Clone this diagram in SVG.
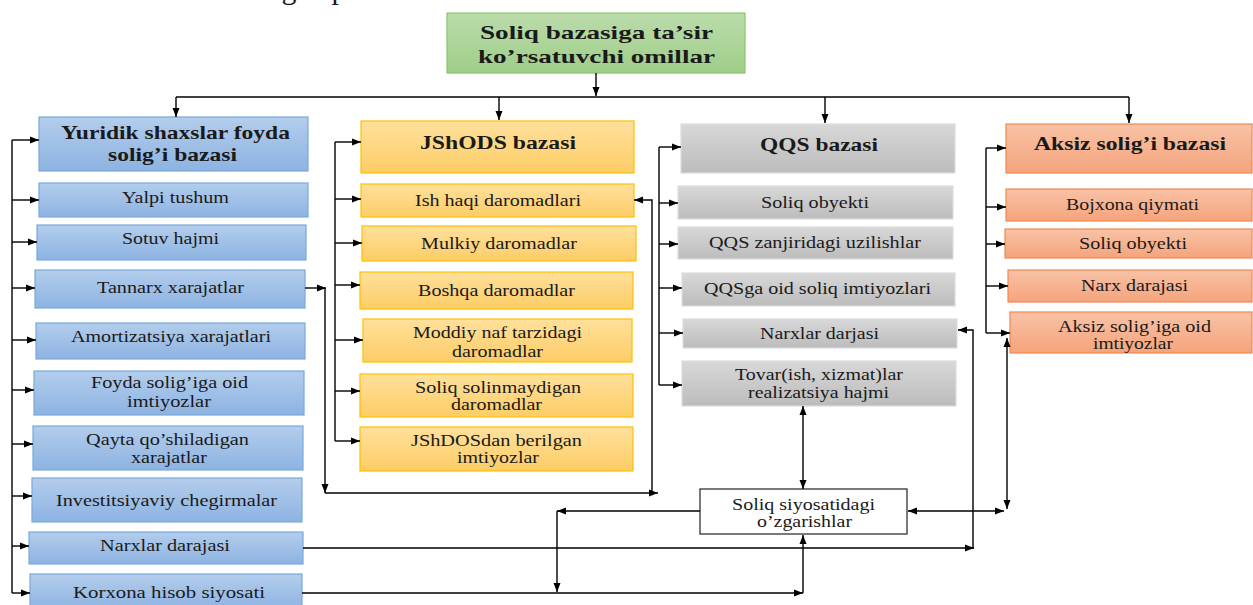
<svg xmlns="http://www.w3.org/2000/svg" width="1253" height="605" viewBox="0 0 1253 605">
<defs>
<linearGradient id="gBlue" x1="0" y1="0" x2="0" y2="1"><stop offset="0" stop-color="#b3cdec"/><stop offset="1" stop-color="#8db3e2"/></linearGradient>
<linearGradient id="gYel" x1="0" y1="0" x2="0" y2="1"><stop offset="0" stop-color="#ffe09c"/><stop offset="1" stop-color="#fdcd66"/></linearGradient>
<linearGradient id="gGray" x1="0" y1="0" x2="0" y2="1"><stop offset="0" stop-color="#d8d8d8"/><stop offset="1" stop-color="#bcbcbc"/></linearGradient>
<linearGradient id="gOr" x1="0" y1="0" x2="0" y2="1"><stop offset="0" stop-color="#f8c2a6"/><stop offset="1" stop-color="#f5a47c"/></linearGradient>
<linearGradient id="gGreen" x1="0" y1="0" x2="0" y2="1"><stop offset="0" stop-color="#bbdcab"/><stop offset="1" stop-color="#9fce88"/></linearGradient>
<marker id="ar" markerUnits="userSpaceOnUse" markerWidth="10" markerHeight="8" refX="9" refY="4" orient="auto-start-reverse"><path d="M0,0.5 L9,4 L0,7.5 z" fill="#000"/></marker>
</defs>
<style>
.blue{fill:url(#gBlue);stroke:#7aa8dc;stroke-width:1.2}
.yel{fill:url(#gYel);stroke:#ffc000;stroke-width:1.2}
.gray{fill:url(#gGray);stroke:#dcdcdc;stroke-width:1.2}
.or{fill:url(#gOr);stroke:#f0894e;stroke-width:1.2}
.grn{fill:url(#gGreen);stroke:#8cc36d;stroke-width:1.2}
.wht{fill:#fff;stroke:#333;stroke-width:1.3}
text{font-family:"Liberation Serif","Times New Roman",serif;fill:#1a1a1a;text-anchor:middle}
.t{font-size:16px}
.b{font-size:19px;font-weight:bold}
.c path{fill:none;stroke:#000;stroke-width:1.4}
.c .a{marker-end:url(#ar)}
.c .d{marker-start:url(#ar);marker-end:url(#ar)}
</style>
<text x="289" y="-1" style="font-size:30px">g</text>
<text x="339" y="-1" style="font-size:30px">p</text>
<g id="root"><rect class="grn" x="447" y="13" width="298" height="60"/><text class="b" x="596.5" y="39" textLength="233" lengthAdjust="spacingAndGlyphs">Soliq bazasiga ta’sir</text><text class="b" x="596.5" y="63" textLength="237" lengthAdjust="spacingAndGlyphs">ko’rsatuvchi omillar</text></g>
<g id="yuridik"><rect class="blue" x="39" y="117" width="269" height="54"/><text class="b" x="175.5" y="139" textLength="229" lengthAdjust="spacingAndGlyphs">Yuridik shaxslar foyda</text><text class="b" x="172.5" y="161" textLength="129" lengthAdjust="spacingAndGlyphs">solig’i bazasi</text></g>
<g id="yalpi"><rect class="blue" x="39" y="183" width="269" height="34"/><text class="t" x="175.5" y="203" textLength="107" lengthAdjust="spacingAndGlyphs">Yalpi tushum</text></g>
<g id="sotuv"><rect class="blue" x="37" y="225" width="269" height="35"/><text class="t" x="170.5" y="244" textLength="97" lengthAdjust="spacingAndGlyphs">Sotuv hajmi</text></g>
<g id="tannarx"><rect class="blue" x="35" y="270" width="270" height="38"/><text class="t" x="170.5" y="293" textLength="147" lengthAdjust="spacingAndGlyphs">Tannarx xarajatlar</text></g>
<g id="amort"><rect class="blue" x="36" y="323" width="269" height="36"/><text class="t" x="171" y="342" textLength="200" lengthAdjust="spacingAndGlyphs">Amortizatsiya xarajatlari</text></g>
<g id="foyda"><rect class="blue" x="34" y="371" width="270" height="44"/><text class="t" x="169.5" y="388" textLength="157" lengthAdjust="spacingAndGlyphs">Foyda solig’iga oid</text><text class="t" x="169" y="407" textLength="84" lengthAdjust="spacingAndGlyphs">imtiyozlar</text></g>
<g id="qayta"><rect class="blue" x="33" y="426" width="270" height="44"/><text class="t" x="167.5" y="445" textLength="163" lengthAdjust="spacingAndGlyphs">Qayta qo’shiladigan</text><text class="t" x="169" y="463" textLength="76" lengthAdjust="spacingAndGlyphs">xarajatlar</text></g>
<g id="invest"><rect class="blue" x="32" y="478" width="270" height="44"/><text class="t" x="166.5" y="506" textLength="221" lengthAdjust="spacingAndGlyphs">Investitsiyaviy chegirmalar</text></g>
<g id="narxlar1"><rect class="blue" x="29" y="532" width="274" height="32"/><text class="t" x="165" y="551" textLength="130" lengthAdjust="spacingAndGlyphs">Narxlar darajasi</text></g>
<g id="korxona"><rect class="blue" x="30" y="574" width="272" height="36"/><text class="t" x="169" y="598" textLength="192" lengthAdjust="spacingAndGlyphs">Korxona hisob siyosati</text></g>
<g id="jshods"><rect class="yel" x="361" y="121" width="273" height="52"/><text class="b" x="498" y="149" textLength="156" lengthAdjust="spacingAndGlyphs">JShODS bazasi</text></g>
<g id="ishhaqi"><rect class="yel" x="361" y="184" width="273" height="33"/><text class="t" x="498" y="206" textLength="166" lengthAdjust="spacingAndGlyphs">Ish haqi daromadlari</text></g>
<g id="mulkiy"><rect class="yel" x="362" y="226" width="274" height="35"/><text class="t" x="499" y="249" textLength="156" lengthAdjust="spacingAndGlyphs">Mulkiy daromadlar</text></g>
<g id="boshqa"><rect class="yel" x="360" y="272" width="273" height="37"/><text class="t" x="496.5" y="296" textLength="157" lengthAdjust="spacingAndGlyphs">Boshqa daromadlar</text></g>
<g id="moddiy"><rect class="yel" x="363" y="319" width="269" height="43"/><text class="t" x="497.5" y="338" textLength="169" lengthAdjust="spacingAndGlyphs">Moddiy naf tarzidagi</text><text class="t" x="497.5" y="357" textLength="91" lengthAdjust="spacingAndGlyphs">daromadlar</text></g>
<g id="solinmay"><rect class="yel" x="360" y="374" width="273" height="43"/><text class="t" x="498" y="393" textLength="166" lengthAdjust="spacingAndGlyphs">Soliq solinmaydigan</text><text class="t" x="496.5" y="410" textLength="91" lengthAdjust="spacingAndGlyphs">daromadlar</text></g>
<g id="jshdosimt"><rect class="yel" x="360" y="427" width="273" height="44"/><text class="t" x="496.5" y="446" textLength="171" lengthAdjust="spacingAndGlyphs">JShDOSdan berilgan</text><text class="t" x="498" y="463" textLength="82" lengthAdjust="spacingAndGlyphs">imtiyozlar</text></g>
<g id="qqs"><rect class="gray" x="681" y="124" width="274" height="49"/><text class="b" x="819" y="151" textLength="118" lengthAdjust="spacingAndGlyphs">QQS bazasi</text></g>
<g id="qqsobyekt"><rect class="gray" x="678" y="186" width="275" height="33"/><text class="t" x="815" y="208" textLength="108" lengthAdjust="spacingAndGlyphs">Soliq obyekti</text></g>
<g id="zanjir"><rect class="gray" x="678" y="227" width="275" height="32"/><text class="t" x="815" y="248" textLength="212" lengthAdjust="spacingAndGlyphs">QQS zanjiridagi uzilishlar</text></g>
<g id="qqsimt"><rect class="gray" x="682" y="273" width="273" height="33"/><text class="t" x="817.5" y="294" textLength="227" lengthAdjust="spacingAndGlyphs">QQSga oid soliq imtiyozlari</text></g>
<g id="narxlar3"><rect class="gray" x="683" y="319" width="274" height="29"/><text class="t" x="819.5" y="339" textLength="119" lengthAdjust="spacingAndGlyphs">Narxlar darjasi</text></g>
<g id="tovar"><rect class="gray" x="682" y="361" width="274" height="45"/><text class="t" x="819" y="380" textLength="168" lengthAdjust="spacingAndGlyphs">Tovar(ish, xizmat)lar</text><text class="t" x="818.5" y="398" textLength="141" lengthAdjust="spacingAndGlyphs">realizatsiya hajmi</text></g>
<g id="siyosat"><rect class="wht" x="700" y="489" width="207" height="45"/><text class="t" x="803.5" y="510" textLength="143" lengthAdjust="spacingAndGlyphs">Soliq siyosatidagi</text><text class="t" x="804.5" y="527" textLength="95" lengthAdjust="spacingAndGlyphs">o’zgarishlar</text></g>
<g id="aksiz"><rect class="or" x="1006" y="124" width="246" height="49"/><text class="b" x="1130" y="150" textLength="192" lengthAdjust="spacingAndGlyphs">Aksiz solig’i bazasi</text></g>
<g id="bojxona"><rect class="or" x="1006" y="189" width="246" height="32"/><text class="t" x="1132.5" y="210" textLength="133" lengthAdjust="spacingAndGlyphs">Bojxona qiymati</text></g>
<g id="aksizobyekt"><rect class="or" x="1005" y="229" width="247" height="29"/><text class="t" x="1133" y="249" textLength="108" lengthAdjust="spacingAndGlyphs">Soliq obyekti</text></g>
<g id="narx4"><rect class="or" x="1008" y="270" width="244" height="32"/><text class="t" x="1134.5" y="291" textLength="107" lengthAdjust="spacingAndGlyphs">Narx darajasi</text></g>
<g id="aksizimt"><rect class="or" x="1010" y="312" width="242" height="41"/><text class="t" x="1134.5" y="332" textLength="153" lengthAdjust="spacingAndGlyphs">Aksiz solig’iga oid</text><text class="t" x="1133" y="349" textLength="80" lengthAdjust="spacingAndGlyphs">imtiyozlar</text></g>
<g id="connectors" class="c">
<path class="a" d="M596,73 V96"/>
<path d="M176,97 H1129"/>
<path class="a" d="M176,97 V117"/>
<path class="a" d="M499,97 V120"/>
<path class="a" d="M825,97 V123"/>
<path class="a" d="M1129,97 V123"/>
<path d="M12,140 V593"/>
<path class="a" d="M12,140 H39"/>
<path class="a" d="M12,200 H39"/>
<path class="a" d="M12,242 H37"/>
<path class="a" d="M12,288 H35"/>
<path class="a" d="M12,340 H36"/>
<path class="a" d="M12,390 H34"/>
<path class="a" d="M12,444 H33"/>
<path class="a" d="M12,496 H32"/>
<path class="a" d="M12,546 H29"/>
<path class="a" d="M12,593 H30"/>
<path d="M335,142 V441"/>
<path class="a" d="M335,142 H361"/>
<path class="a" d="M335,199 H361"/>
<path class="a" d="M335,243 H362"/>
<path class="a" d="M335,285 H360"/>
<path class="a" d="M335,340 H363"/>
<path class="a" d="M335,391 H360"/>
<path class="a" d="M335,441 H360"/>
<path class="a" d="M305,288 H326"/>
<path class="a" d="M325,288 V493"/>
<path class="a" d="M325,493 H658"/>
<path class="a" d="M652,493 V200 H634"/>
<path d="M659,147 V385"/>
<path class="a" d="M659,147 H681"/>
<path class="a" d="M659,203 H678"/>
<path class="a" d="M659,244 H678"/>
<path class="a" d="M659,288 H682"/>
<path class="a" d="M659,333 H683"/>
<path class="a" d="M659,385 H682"/>
<path d="M986,148 V333"/>
<path class="a" d="M986,148 H1006"/>
<path class="a" d="M986,207 H1006"/>
<path class="a" d="M986,244 H1005"/>
<path class="a" d="M986,286 H1008"/>
<path class="a" d="M986,333 H1010"/>
<path class="d" d="M803,406 V489"/>
<path class="d" d="M908,511 H1004"/>
<path class="d" d="M1007,338 V509"/>
<path class="a" d="M303,548 H974"/>
<path class="a" d="M973,549 V330 H958"/>
<path class="a" d="M302,593 H803"/>
<path class="a" d="M803,593 V535"/>
<path class="a" d="M700,511 H557"/>
<path class="a" d="M557,511 V592"/>
</g>
</svg>
